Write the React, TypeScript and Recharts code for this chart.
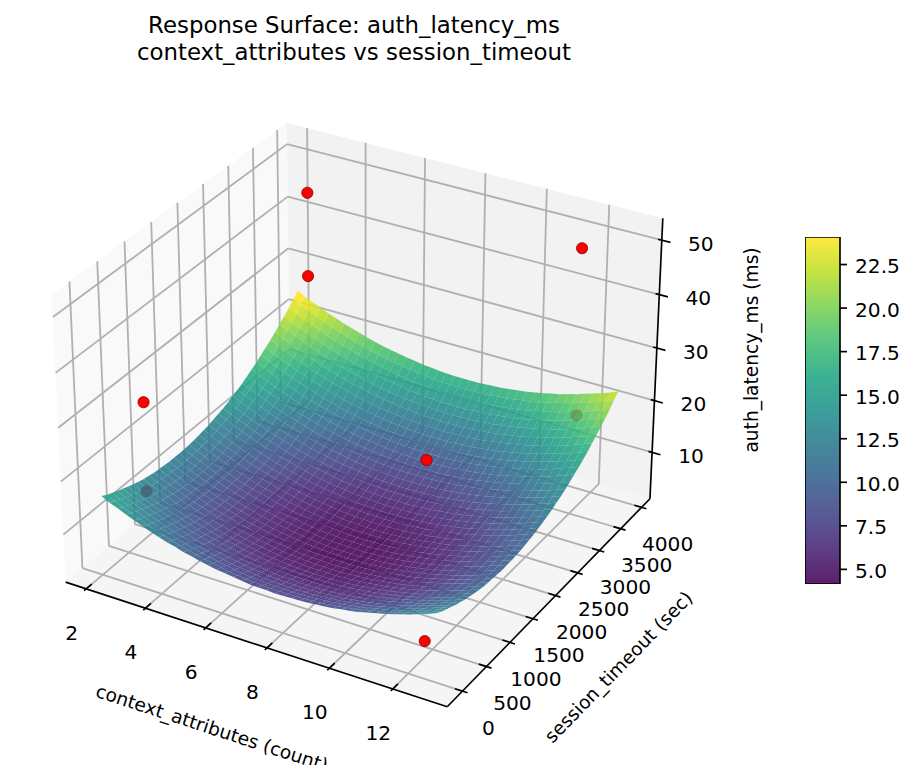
import React from 'react';
import { Bar, BarChart, Scatter, ScatterChart, XAxis, YAxis } from 'recharts';

const FONT = '"DejaVu Sans", sans-serif';
const W = 916;
const H = 765;

// axis limits of the 3d box
const xLim = [1.3, 13.69];
const yLim = [-312, 4203];
const zLim = [0.9, 54];

const xTicks = [2, 4, 6, 8, 10, 12];
const yTicks = [0, 500, 1000, 1500, 2000, 2500, 3000, 3500, 4000];
const zTicks = [10, 20, 30, 40, 50];
const barTicks = [5, 7.5, 10, 12.5, 15, 17.5, 20, 22.5];
const barDomain = [4.16, 24.08];

const surfaceX = [2.1, 2.37, 2.64, 2.91, 3.18, 3.45, 3.72, 3.99, 4.26, 4.53, 4.8, 5.07, 5.34, 5.61, 5.88, 6.15, 6.42, 6.69, 6.96, 7.23, 7.5, 7.77, 8.04, 8.31, 8.58, 8.85, 9.12, 9.39, 9.66, 9.93, 10.2, 10.47, 10.74, 11.01, 11.28, 11.55, 11.82, 12.09, 12.36, 12.63, 12.9];
const surfaceY = [-20, 78, 177, 275, 373, 472, 570, 668, 766, 865, 963, 1061, 1160, 1258, 1356, 1455, 1553, 1651, 1750, 1848, 1946, 2044, 2143, 2241, 2339, 2438, 2536, 2634, 2733, 2831, 2929, 3028, 3126, 3224, 3323, 3421, 3519, 3618, 3716, 3814, 3912];
// one row per surfaceY value
const surfaceZ = [
  [16.3,15.5,14.9,14.2,13.6,13.0,12.4,11.9,11.4,11.0,10.5,10.2,9.8,9.5,9.2,9.0,8.8,8.6,8.4,8.3,8.3,8.2,8.2,8.3,8.3,8.4,8.6,8.7,8.9,9.2,9.4,9.7,10.1,10.5,10.9,11.3,11.8,12.3,12.9,13.4,14.1],
  [15.7,15.0,14.3,13.7,13.0,12.4,11.9,11.4,10.9,10.4,10.0,9.6,9.3,9.0,8.7,8.4,8.2,8.0,7.9,7.8,7.7,7.7,7.7,7.7,7.8,7.9,8.0,8.2,8.4,8.6,8.9,9.2,9.6,9.9,10.3,10.8,11.3,11.8,12.3,12.9,13.5],
  [15.2,14.5,13.8,13.2,12.5,11.9,11.4,10.9,10.4,9.9,9.5,9.1,8.8,8.5,8.2,7.9,7.7,7.5,7.4,7.3,7.2,7.2,7.2,7.2,7.3,7.4,7.5,7.7,7.9,8.1,8.4,8.7,9.1,9.4,9.8,10.3,10.8,11.3,11.8,12.4,13.0],
  [14.8,14.0,13.4,12.7,12.1,11.5,10.9,10.4,9.9,9.5,9.0,8.7,8.3,8.0,7.7,7.5,7.3,7.1,6.9,6.8,6.8,6.7,6.7,6.8,6.8,6.9,7.1,7.2,7.4,7.7,7.9,8.2,8.6,9.0,9.4,9.8,10.3,10.8,11.4,11.9,12.6],
  [14.4,13.6,12.9,12.3,11.6,11.1,10.5,10.0,9.5,9.0,8.6,8.2,7.9,7.6,7.3,7.1,6.8,6.7,6.5,6.4,6.3,6.3,6.3,6.3,6.4,6.5,6.6,6.8,7.0,7.2,7.5,7.8,8.2,8.5,9.0,9.4,9.9,10.4,10.9,11.5,12.1],
  [14.0,13.2,12.5,11.9,11.3,10.7,10.1,9.6,9.1,8.7,8.2,7.9,7.5,7.2,6.9,6.7,6.5,6.3,6.1,6.0,6.0,5.9,5.9,5.9,6.0,6.1,6.2,6.4,6.6,6.9,7.1,7.4,7.8,8.2,8.6,9.0,9.5,10.0,10.6,11.1,11.8],
  [13.6,12.9,12.2,11.5,10.9,10.3,9.8,9.3,8.8,8.3,7.9,7.5,7.2,6.9,6.6,6.3,6.1,5.9,5.8,5.7,5.6,5.6,5.6,5.6,5.7,5.8,5.9,6.1,6.3,6.5,6.8,7.1,7.4,7.8,8.2,8.7,9.2,9.7,10.2,10.8,11.4],
  [13.3,12.6,11.9,11.2,10.6,10.0,9.5,8.9,8.5,8.0,7.6,7.2,6.9,6.5,6.3,6.0,5.8,5.6,5.5,5.4,5.3,5.3,5.3,5.3,5.4,5.5,5.6,5.8,6.0,6.2,6.5,6.8,7.1,7.5,7.9,8.4,8.8,9.4,9.9,10.5,11.1],
  [13.0,12.3,11.6,11.0,10.3,9.7,9.2,8.7,8.2,7.7,7.3,6.9,6.6,6.3,6.0,5.7,5.5,5.4,5.2,5.1,5.0,5.0,5.0,5.0,5.1,5.2,5.3,5.5,5.7,5.9,6.2,6.5,6.9,7.2,7.6,8.1,8.6,9.1,9.6,10.2,10.8],
  [12.8,12.1,11.4,10.7,10.1,9.5,9.0,8.4,8.0,7.5,7.1,6.7,6.4,6.0,5.8,5.5,5.3,5.1,5.0,4.9,4.8,4.8,4.8,4.8,4.9,5.0,5.1,5.3,5.5,5.7,6.0,6.3,6.6,7.0,7.4,7.9,8.3,8.9,9.4,10.0,10.6],
  [12.6,11.9,11.2,10.6,9.9,9.3,8.8,8.3,7.8,7.3,6.9,6.5,6.2,5.9,5.6,5.3,5.1,4.9,4.8,4.7,4.6,4.6,4.6,4.6,4.7,4.8,4.9,5.1,5.3,5.5,5.8,6.1,6.5,6.8,7.2,7.7,8.2,8.7,9.2,9.8,10.4],
  [12.5,11.7,11.1,10.4,9.8,9.2,8.6,8.1,7.6,7.2,6.7,6.4,6.0,5.7,5.4,5.2,5.0,4.8,4.6,4.5,4.5,4.4,4.4,4.5,4.5,4.6,4.8,4.9,5.1,5.4,5.6,5.9,6.3,6.7,7.1,7.5,8.0,8.5,9.1,9.6,10.3],
  [12.4,11.6,10.9,10.3,9.7,9.1,8.5,8.0,7.5,7.1,6.6,6.3,5.9,5.6,5.3,5.1,4.9,4.7,4.5,4.4,4.4,4.3,4.3,4.3,4.4,4.5,4.6,4.8,5.0,5.3,5.5,5.8,6.2,6.6,7.0,7.4,7.9,8.4,9.0,9.5,10.2],
  [12.3,11.6,10.9,10.2,9.6,9.0,8.4,7.9,7.4,7.0,6.6,6.2,5.8,5.5,5.2,5.0,4.8,4.6,4.5,4.4,4.3,4.3,4.2,4.3,4.3,4.4,4.6,4.7,5.0,5.2,5.5,5.8,6.1,6.5,6.9,7.3,7.8,8.3,8.9,9.5,10.1],
  [12.3,11.5,10.8,10.2,9.5,9.0,8.4,7.9,7.4,6.9,6.5,6.1,5.8,5.5,5.2,5.0,4.7,4.6,4.4,4.3,4.2,4.2,4.2,4.2,4.3,4.4,4.5,4.7,4.9,5.1,5.4,5.7,6.1,6.4,6.9,7.3,7.8,8.3,8.8,9.4,10.0],
  [12.3,11.5,10.8,10.2,9.6,9.0,8.4,7.9,7.4,7.0,6.5,6.2,5.8,5.5,5.2,5.0,4.8,4.6,4.4,4.3,4.3,4.2,4.2,4.2,4.3,4.4,4.5,4.7,4.9,5.2,5.4,5.7,6.1,6.5,6.9,7.3,7.8,8.3,8.9,9.4,10.1],
  [12.3,11.6,10.9,10.2,9.6,9.0,8.5,7.9,7.4,7.0,6.6,6.2,5.8,5.5,5.3,5.0,4.8,4.6,4.5,4.4,4.3,4.3,4.3,4.3,4.4,4.5,4.6,4.8,5.0,5.2,5.5,5.8,6.1,6.5,6.9,7.4,7.8,8.3,8.9,9.5,10.1],
  [12.4,11.7,11.0,10.3,9.7,9.1,8.5,8.0,7.5,7.1,6.7,6.3,5.9,5.6,5.3,5.1,4.9,4.7,4.6,4.5,4.4,4.3,4.3,4.4,4.4,4.5,4.7,4.8,5.0,5.3,5.6,5.9,6.2,6.6,7.0,7.4,7.9,8.4,9.0,9.6,10.2],
  [12.5,11.8,11.1,10.4,9.8,9.2,8.7,8.1,7.6,7.2,6.8,6.4,6.0,5.7,5.5,5.2,5.0,4.8,4.7,4.6,4.5,4.5,4.5,4.5,4.6,4.7,4.8,5.0,5.2,5.4,5.7,6.0,6.3,6.7,7.1,7.6,8.0,8.5,9.1,9.7,10.3],
  [12.7,11.9,11.2,10.6,10.0,9.4,8.8,8.3,7.8,7.4,6.9,6.6,6.2,5.9,5.6,5.4,5.2,5.0,4.8,4.7,4.7,4.6,4.6,4.6,4.7,4.8,4.9,5.1,5.3,5.6,5.8,6.1,6.5,6.9,7.3,7.7,8.2,8.7,9.3,9.8,10.5],
  [12.9,12.1,11.4,10.8,10.2,9.6,9.0,8.5,8.0,7.6,7.1,6.8,6.4,6.1,5.8,5.6,5.4,5.2,5.0,4.9,4.9,4.8,4.8,4.8,4.9,5.0,5.1,5.3,5.5,5.8,6.0,6.3,6.7,7.1,7.5,7.9,8.4,8.9,9.5,10.0,10.7],
  [13.1,12.4,11.7,11.0,10.4,9.8,9.2,8.7,8.2,7.8,7.4,7.0,6.6,6.3,6.0,5.8,5.6,5.4,5.3,5.2,5.1,5.1,5.0,5.1,5.1,5.2,5.4,5.5,5.8,6.0,6.3,6.6,6.9,7.3,7.7,8.1,8.6,9.1,9.7,10.3,10.9],
  [13.4,12.6,12.0,11.3,10.7,10.1,9.5,9.0,8.5,8.1,7.6,7.3,6.9,6.6,6.3,6.1,5.9,5.7,5.5,5.4,5.4,5.3,5.3,5.4,5.4,5.5,5.7,5.8,6.0,6.3,6.5,6.8,7.2,7.6,8.0,8.4,8.9,9.4,10.0,10.5,11.2],
  [13.7,13.0,12.3,11.6,11.0,10.4,9.8,9.3,8.8,8.4,8.0,7.6,7.2,6.9,6.6,6.4,6.2,6.0,5.9,5.8,5.7,5.6,5.6,5.7,5.7,5.8,6.0,6.1,6.3,6.6,6.9,7.2,7.5,7.9,8.3,8.7,9.2,9.7,10.3,10.9,11.5],
  [14.0,13.3,12.6,12.0,11.3,10.7,10.2,9.7,9.2,8.7,8.3,7.9,7.6,7.3,7.0,6.7,6.5,6.4,6.2,6.1,6.0,6.0,6.0,6.0,6.1,6.2,6.3,6.5,6.7,6.9,7.2,7.5,7.9,8.2,8.6,9.1,9.6,10.1,10.6,11.2,11.8],
  [14.4,13.7,13.0,12.4,11.7,11.1,10.6,10.1,9.6,9.1,8.7,8.3,8.0,7.7,7.4,7.1,6.9,6.7,6.6,6.5,6.4,6.4,6.4,6.4,6.5,6.6,6.7,6.9,7.1,7.3,7.6,7.9,8.3,8.6,9.0,9.5,10.0,10.5,11.0,11.6,12.2],
  [14.9,14.1,13.4,12.8,12.2,11.6,11.0,10.5,10.0,9.6,9.1,8.8,8.4,8.1,7.8,7.6,7.4,7.2,7.0,6.9,6.9,6.8,6.8,6.8,6.9,7.0,7.1,7.3,7.5,7.8,8.0,8.3,8.7,9.1,9.5,9.9,10.4,10.9,11.5,12.0,12.7],
  [15.3,14.6,13.9,13.3,12.6,12.0,11.5,11.0,10.5,10.0,9.6,9.2,8.9,8.6,8.3,8.0,7.8,7.6,7.5,7.4,7.3,7.3,7.3,7.3,7.4,7.5,7.6,7.8,8.0,8.2,8.5,8.8,9.2,9.5,9.9,10.4,10.9,11.4,11.9,12.5,13.1],
  [15.8,15.1,14.4,13.8,13.1,12.5,12.0,11.5,11.0,10.5,10.1,9.7,9.4,9.1,8.8,8.5,8.3,8.1,8.0,7.9,7.8,7.8,7.8,7.8,7.9,8.0,8.1,8.3,8.5,8.7,9.0,9.3,9.7,10.0,10.4,10.9,11.4,11.9,12.4,13.0,13.6],
  [16.4,15.7,15.0,14.3,13.7,13.1,12.5,12.0,11.5,11.1,10.7,10.3,9.9,9.6,9.3,9.1,8.9,8.7,8.6,8.5,8.4,8.3,8.3,8.4,8.4,8.5,8.7,8.8,9.0,9.3,9.6,9.9,10.2,10.6,11.0,11.4,11.9,12.4,13.0,13.6,14.2],
  [17.0,16.2,15.6,14.9,14.3,13.7,13.1,12.6,12.1,11.7,11.2,10.9,10.5,10.2,9.9,9.7,9.5,9.3,9.1,9.0,9.0,8.9,8.9,9.0,9.0,9.1,9.3,9.4,9.6,9.9,10.1,10.4,10.8,11.2,11.6,12.0,12.5,13.0,13.6,14.1,14.8],
  [17.6,16.9,16.2,15.5,14.9,14.3,13.7,13.2,12.7,12.3,11.9,11.5,11.1,10.8,10.5,10.3,10.1,9.9,9.8,9.7,9.6,9.6,9.5,9.6,9.6,9.7,9.9,10.0,10.3,10.5,10.8,11.1,11.4,11.8,12.2,12.6,13.1,13.6,14.2,14.8,15.4],
  [18.3,17.5,16.8,16.2,15.5,15.0,14.4,13.9,13.4,12.9,12.5,12.1,11.8,11.5,11.2,11.0,10.7,10.6,10.4,10.3,10.2,10.2,10.2,10.2,10.3,10.4,10.5,10.7,10.9,11.1,11.4,11.7,12.1,12.4,12.9,13.3,13.8,14.3,14.8,15.4,16.0],
  [19.0,18.2,17.5,16.9,16.2,15.7,15.1,14.6,14.1,13.6,13.2,12.8,12.5,12.2,11.9,11.7,11.4,11.3,11.1,11.0,10.9,10.9,10.9,10.9,11.0,11.1,11.2,11.4,11.6,11.8,12.1,12.4,12.8,13.1,13.6,14.0,14.5,15.0,15.5,16.1,16.7],
  [19.7,19.0,18.3,17.6,17.0,16.4,15.8,15.3,14.8,14.4,14.0,13.6,13.2,12.9,12.6,12.4,12.2,12.0,11.9,11.8,11.7,11.7,11.6,11.7,11.7,11.8,12.0,12.1,12.4,12.6,12.9,13.2,13.5,13.9,14.3,14.7,15.2,15.7,16.3,16.9,17.5],
  [20.5,19.7,19.1,18.4,17.8,17.2,16.6,16.1,15.6,15.2,14.7,14.4,14.0,13.7,13.4,13.2,13.0,12.8,12.6,12.5,12.5,12.4,12.4,12.5,12.5,12.6,12.8,12.9,13.1,13.4,13.6,13.9,14.3,14.7,15.1,15.5,16.0,16.5,17.1,17.6,18.3],
  [21.3,20.6,19.9,19.2,18.6,18.0,17.4,16.9,16.4,16.0,15.6,15.2,14.8,14.5,14.2,14.0,13.8,13.6,13.5,13.4,13.3,13.3,13.2,13.3,13.3,13.4,13.6,13.7,14.0,14.2,14.5,14.8,15.1,15.5,15.9,16.3,16.8,17.3,17.9,18.5,19.1],
  [22.2,21.4,20.7,20.1,19.4,18.9,18.3,17.8,17.3,16.8,16.4,16.0,15.7,15.4,15.1,14.9,14.6,14.5,14.3,14.2,14.1,14.1,14.1,14.1,14.2,14.3,14.4,14.6,14.8,15.0,15.3,15.6,16.0,16.3,16.8,17.2,17.7,18.2,18.7,19.3,19.9],
  [23.0,22.3,21.6,21.0,20.3,19.7,19.2,18.7,18.2,17.7,17.3,16.9,16.6,16.3,16.0,15.7,15.5,15.4,15.2,15.1,15.0,15.0,15.0,15.0,15.1,15.2,15.3,15.5,15.7,15.9,16.2,16.5,16.9,17.2,17.6,18.1,18.6,19.1,19.6,20.2,20.8],
  [24.0,23.2,22.6,21.9,21.3,20.7,20.1,19.6,19.1,18.7,18.2,17.9,17.5,17.2,16.9,16.7,16.5,16.3,16.1,16.0,16.0,15.9,15.9,16.0,16.0,16.1,16.3,16.4,16.6,16.9,17.1,17.4,17.8,18.2,18.6,19.0,19.5,20.0,20.6,21.1,21.8],
  [25.0,24.2,23.5,22.9,22.2,21.7,21.1,20.6,20.1,19.6,19.2,18.8,18.5,18.2,17.9,17.7,17.4,17.3,17.1,17.0,16.9,16.9,16.9,16.9,17.0,17.1,17.2,17.4,17.6,17.8,18.1,18.4,18.8,19.1,19.6,20.0,20.5,21.0,21.5,22.1,22.7],
];

// measured points: the two under the surface are drawn before it
const pointsBehind = [
  [3.02, 314, 16.0],
  [12.03, 3577, 19.4],
];
const pointsFront = [
  [3.02, 314, 32.6],
  [3.02, 3577, 31.7],
  [3.02, 3577, 47.5],
  [12.03, 3577, 50.5],
  [12.03, 314, 37.3],
  [12.03, 314, 4.2],
];

const viridis = [
  [68, 1, 84], [72, 36, 117], [65, 68, 135], [53, 95, 141], [42, 120, 142], [33, 145, 140],
  [34, 168, 132], [68, 191, 112], [122, 209, 81], [189, 223, 38], [253, 231, 37],
];
const SURFACE_ALPHA = 0.88;

const rgb = (c: number[]) => `rgb(${c.map((v) => Math.round(v)).join(',')})`;

const colorAt = (z: number) => {
  const t = Math.max(0, Math.min(0.9999, (z - barDomain[0]) / (barDomain[1] - barDomain[0]))) * (viridis.length - 1);
  const i = Math.floor(t);
  return rgb(viridis[i].map((v, k) => v + (viridis[i + 1][k] - v) * (t - i)));
};

// same view as mplot3d with elev 30, azim -60 and box aspect 4:4:3
const boxScale = (1.8294640721620434 * 25) / 24 / Math.sqrt(41);
const box = [4 * boxScale, 4 * boxScale, 3 * boxScale];
const viewU = [Math.sqrt(3) / 2, 0.5, 0];
const viewV = [-0.25, Math.sqrt(3) / 4, Math.sqrt(3) / 2];
const viewN = [Math.sqrt(3) / 4, -0.75, 0.5];
const dot = (a: number[], b: number[]) => a[0] * b[0] + a[1] * b[1] + a[2] * b[2];

const project = (x: number, y: number, z: number) => {
  const d = [
    ((x - xLim[0]) / (xLim[1] - xLim[0]) - 0.5) * box[0],
    ((y - yLim[0]) / (yLim[1] - yLim[0]) - 0.5) * box[1],
    ((z - zLim[0]) / (zLim[1] - zLim[0]) - 0.5) * box[2],
  ];
  const depth = dot(d, viewN);
  const f = 3672 / (10 - depth);
  return { px: 363.2 + dot(d, viewU) * f, py: 400.8 - dot(d, viewV) * f, depth };
};

type P3 = number[];
const poly = (corners: P3[], fill: string, opacity = 1) => {
  const pts = corners.map((c) => project(c[0], c[1], c[2]));
  return {
    px: pts[0].px,
    py: pts[0].py,
    pts,
    fill,
    opacity,
    depth: pts.reduce((s, p) => s + p.depth, 0) / pts.length,
  };
};
const seg = (a: P3, b: P3) => {
  const p = project(a[0], a[1], a[2]);
  const q = project(b[0], b[1], b[2]);
  return { px: p.px, py: p.py, ex: q.px, ey: q.py };
};

const [x0, x1] = xLim;
const [y0, y1] = yLim;
const [z0, z1] = zLim;

const paneData = [
  poly([[x0, y0, z0], [x0, y1, z0], [x0, y1, z1], [x0, y0, z1]], '#f9f9f9'),
  poly([[x0, y1, z0], [x1, y1, z0], [x1, y1, z1], [x0, y1, z1]], '#f2f2f2'),
  poly([[x0, y0, z0], [x1, y0, z0], [x1, y1, z0], [x0, y1, z0]], '#f5f5f5'),
];

const gridData = [
  ...xTicks.flatMap((x) => [seg([x, y0, z0], [x, y1, z0]), seg([x, y1, z0], [x, y1, z1])]),
  ...yTicks.flatMap((y) => [seg([x1, y, z0], [x0, y, z0]), seg([x0, y, z0], [x0, y, z1])]),
  ...zTicks.flatMap((z) => [seg([x0, y0, z], [x0, y1, z]), seg([x0, y1, z], [x1, y1, z])]),
];

const xSpan = x1 - x0;
const ySpan = y1 - y0;
const axisData = [
  seg([x0, y0, z0], [x1, y0, z0]),
  seg([x1, y0, z0], [x1, y1, z0]),
  seg([x1, y1, z0], [x1, y1, z1]),
  ...xTicks.map((x) => seg([x, y0 - 0.009 * ySpan, z0], [x, y0 + 0.023 * ySpan, z0])),
  ...yTicks.map((y) => seg([x1 + 0.0126 * xSpan, y, z0], [x1 - 0.019 * xSpan, y, z0])),
  ...zTicks.map((z) => seg([x1 + 0.022 * xSpan, y1, z], [x1 - 0.0095 * xSpan, y1, z])),
];

const surfaceData = surfaceZ
  .slice(1)
  .flatMap((row, j) =>
    row.slice(1).map((_, i) => {
      const a = surfaceZ[j][i];
      const b = surfaceZ[j][i + 1];
      const c = row[i + 1];
      const d = row[i];
      return poly(
        [
          [surfaceX[i], surfaceY[j], a],
          [surfaceX[i + 1], surfaceY[j], b],
          [surfaceX[i + 1], surfaceY[j + 1], c],
          [surfaceX[i], surfaceY[j + 1], d],
        ],
        colorAt((a + b + c + d) / 4),
        SURFACE_ALPHA,
      );
    }),
  )
  .sort((a, b) => a.depth - b.depth);

const toPoint = (p: number[]) => project(p[0], p[1], p[2]);

const tickLabels = [
  ...xTicks.map((x) => ({ ...project(x, y0, z0), text: String(x), dx: -14.5, dy: 44 })),
  ...yTicks.map((y) => ({ ...project(x1, y, z0), text: String(y), dx: 26, dy: 36.5 })),
  ...zTicks.map((z) => ({ ...project(x1, y1, z), text: String(z), dx: 39, dy: 3.5 })),
];

const PolyShape = ({ cx, cy, payload }: any) => (
  <polygon
    points={payload.pts.map((p: any) => `${cx + p.px - payload.px},${cy + p.py - payload.py}`).join(' ')}
    fill={payload.fill}
    fillOpacity={payload.opacity}
  />
);

const lineShape = (stroke: string, width: number) => ({ cx, cy, payload }: any) => (
  <line
    x1={cx}
    y1={cy}
    x2={cx + payload.ex - payload.px}
    y2={cy + payload.ey - payload.py}
    stroke={stroke}
    strokeWidth={width}
  />
);

const Dot = ({ cx, cy }: any) => <circle cx={cx} cy={cy} r={5.6} fill="#ff0000" stroke="#8b0000" strokeWidth={0.8} />;

const TickLabel = ({ cx, cy, payload }: any) => (
  <text x={cx + payload.dx} y={cy + payload.dy} textAnchor="middle" dominantBaseline="central" fontFamily={FONT} fontSize={20.2} fill="#000">
    {payload.text}
  </text>
);

const titleText = { fontFamily: FONT, fontSize: 22.85, fill: '#000', textAnchor: 'middle' as const, dominantBaseline: 'central' as const };
const axisText = { fontFamily: FONT, fontSize: 18.6, fill: '#000', textAnchor: 'middle' as const, dominantBaseline: 'central' as const };

const Surface3D = () => (
  <ScatterChart width={W} height={H} margin={{ top: 0, right: 0, bottom: 0, left: 0 }}>
    <XAxis type="number" dataKey="px" domain={[0, W]} hide />
    <YAxis type="number" dataKey="py" domain={[0, H]} reversed hide />
    <Scatter data={paneData} shape={PolyShape} isAnimationActive={false} />
    <Scatter data={gridData} shape={lineShape('#b0b0b0', 1.8)} isAnimationActive={false} />
    <Scatter data={pointsBehind.map(toPoint)} shape={Dot} isAnimationActive={false} />
    <Scatter data={surfaceData} shape={PolyShape} isAnimationActive={false} />
    <Scatter data={pointsFront.map(toPoint)} shape={Dot} isAnimationActive={false} />
    <Scatter data={axisData} shape={lineShape('#000', 1.67)} isAnimationActive={false} />
    <Scatter data={tickLabels} shape={TickLabel} isAnimationActive={false} />
    <text {...titleText} x={354} y={25}>
      Response Surface: auth_latency_ms
    </text>
    <text {...titleText} x={354} y={52}>
      context_attributes vs session_timeout
    </text>
    <text {...axisText} x={212} y={728} transform="rotate(18.1 212 728)">
      context_attributes (count)
    </text>
    <text {...axisText} x={618.5} y={667} transform="rotate(-45.7 618.5 667)">
      session_timeout (sec)
    </text>
    <text {...axisText} x={751} y={350} transform="rotate(-90 751 350)">
      auth_latency_ms (ms)
    </text>
  </ScatterChart>
);

const barData = [{ name: 'z', range: barDomain }];

const ColorBar = () => (
  <BarChart width={111} height={347} data={barData} margin={{ top: 0, right: 0, bottom: 0, left: 0 }} barCategoryGap={0}>
    <defs>
      <linearGradient id="viridisBar" x1="0" y1="1" x2="0" y2="0">
        {viridis.map((c, i) => (
          <stop key={i} offset={i / (viridis.length - 1)} stopColor={rgb(c)} stopOpacity={SURFACE_ALPHA} />
        ))}
      </linearGradient>
    </defs>
    <XAxis dataKey="name" hide />
    <YAxis
      orientation="right"
      width={76}
      type="number"
      domain={barDomain}
      ticks={barTicks}
      allowDataOverflow
      axisLine={false}
      tickSize={7}
      tickMargin={8}
      tickLine={{ stroke: '#000', strokeWidth: 1.67 }}
      tick={{ fontFamily: FONT, fontSize: 20.2, fill: '#000', dy: 1.5 }}
      tickFormatter={(v: number) => v.toFixed(1)}
    />
    <Bar dataKey="range" fill="url(#viridisBar)" stroke="#000" strokeWidth={1.67} isAnimationActive={false} />
  </BarChart>
);

export default function App() {
  return (
    <div style={{ position: 'absolute', left: 0, top: 0, width: W, height: H, overflow: 'hidden', background: '#fff' }}>
      <Surface3D />
      <div style={{ position: 'absolute', left: 805, top: 237 }}>
        <ColorBar />
      </div>
    </div>
  );
}
